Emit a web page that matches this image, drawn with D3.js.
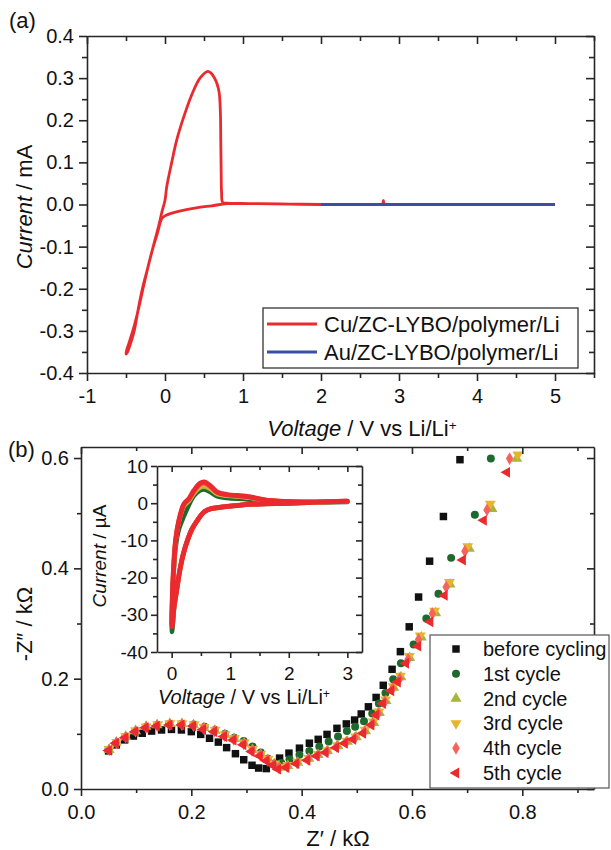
<!DOCTYPE html>
<html>
<head>
<meta charset="utf-8">
<script src="https://cdn.jsdelivr.net/npm/d3@7"></script>
<style>
  body { margin: 0; background: #fff; }
  text { font-family: Arial, "Liberation Sans", sans-serif; fill: #111; }
  .axis path, .axis line { stroke-width: 1.6; }
</style>
</head>
<body>
<div id="chart"></div>
<script>
// ---------- panel (a) data: CV of Cu and Au cells ----------
var cuV = [2.82, 2.81, 2.80, 2.79, 2.78, 2.6, 2.4, 2.0, 1.6, 1.2, 0.8, 0.6, 0.4, 0.2, 0.1, 0.0, -0.04,
  -0.10, -0.15, -0.22, -0.29, -0.345, -0.395, -0.45, -0.485, -0.50,
  -0.49, -0.45, -0.39, -0.33, -0.27, -0.21, -0.14, -0.08, -0.04, 0.0, 0.022, 0.086,
  0.15, 0.235, 0.342, 0.449, 0.551, 0.60, 0.64, 0.67, 0.695, 0.71, 0.715, 0.72,
  0.725, 0.74, 0.8, 1.2, 1.6, 2.0];
var cuI = [0.000, 0.000, 0.010, 0.000, 0.000, 0.000, 0.000, 0.000, 0.001, 0.002, 0.002, -0.003, -0.008,
  -0.015, -0.020, -0.027, -0.033, -0.070, -0.100, -0.150, -0.200, -0.250, -0.300,
  -0.335, -0.352, -0.355, -0.345, -0.322, -0.285, -0.240, -0.190, -0.142, -0.092,
  -0.050, -0.018, 0.010, 0.042, 0.100, 0.153, 0.205, 0.260, 0.300, 0.316,
  0.310, 0.298, 0.285, 0.265, 0.220, 0.150, 0.080, 0.030, 0.005, 0.003, 0.002,
  0.001, 0.000];
var auV = [2.0, 3.0, 4.0, 4.6, 5.0];
var auI = [0.000, 0.000, 0.000, 0.000, 0.000];

var aXMajor = [-1, 0, 1, 2, 3, 4, 5];
var aXMinor = [-0.5, 0.5, 1.5, 2.5, 3.5, 4.5, 5.5];
var aYMajor = [-0.4, -0.3, -0.2, -0.1, 0.0, 0.1, 0.2, 0.3, 0.4];
var aYMinor = [-0.35, -0.25, -0.15, -0.05, 0.05, 0.15, 0.25, 0.35];

// ---------- panel (b) data: Nyquist plots (kOhm) ----------
var zBefore = [0.050, 0.064, 0.079, 0.095, 0.111, 0.128, 0.146, 0.164, 0.182, 0.200, 0.217,
  0.233, 0.249, 0.264, 0.280, 0.295, 0.310, 0.322, 0.336, 0.347, 0.360, 0.377, 0.396,
  0.414, 0.430, 0.446, 0.464, 0.481, 0.496, 0.508, 0.521, 0.535, 0.548, 0.564, 0.579,
  0.595, 0.612, 0.632, 0.657, 0.687];
var imBefore = [0.069, 0.080, 0.089, 0.096, 0.101, 0.105, 0.107, 0.108, 0.107, 0.104,
  0.099, 0.092, 0.085, 0.075, 0.064, 0.053, 0.043, 0.038, 0.037, 0.046, 0.056, 0.065,
  0.074, 0.083, 0.090, 0.099, 0.110, 0.118, 0.125, 0.136, 0.149, 0.166, 0.188, 0.217,
  0.249, 0.294, 0.348, 0.413, 0.494, 0.597];

var z1 = [0.050, 0.064, 0.080, 0.098, 0.117, 0.138, 0.160, 0.182, 0.204, 0.224, 0.243,
  0.261, 0.278, 0.295, 0.311, 0.326, 0.339, 0.351, 0.363, 0.378, 0.396, 0.414, 0.432,
  0.449, 0.466, 0.482, 0.497, 0.513, 0.528, 0.540, 0.552, 0.566, 0.580, 0.603, 0.626,
  0.648, 0.671, 0.714, 0.743];
var im1 = [0.071, 0.084, 0.094, 0.104, 0.112, 0.116, 0.118, 0.118, 0.117, 0.113, 0.107,
  0.100, 0.093, 0.087, 0.077, 0.066, 0.055, 0.046, 0.047, 0.054, 0.062, 0.069, 0.077,
  0.086, 0.095, 0.105, 0.113, 0.123, 0.137, 0.155, 0.174, 0.199, 0.228, 0.262, 0.309,
  0.354, 0.419, 0.497, 0.599];

var z2 = [0.051, 0.064, 0.081, 0.099, 0.118, 0.138, 0.161, 0.183, 0.204, 0.223, 0.243,
  0.261, 0.278, 0.296, 0.311, 0.326, 0.339, 0.351, 0.360, 0.375, 0.393, 0.413, 0.430,
  0.447, 0.466, 0.483, 0.499, 0.516, 0.531, 0.541, 0.553, 0.567, 0.580, 0.596, 0.617,
  0.643, 0.669, 0.704, 0.745, 0.790];
var im2 = [0.071, 0.084, 0.095, 0.105, 0.113, 0.116, 0.118, 0.118, 0.116, 0.111, 0.106,
  0.098, 0.091, 0.083, 0.071, 0.062, 0.053, 0.045, 0.039, 0.042, 0.048, 0.055, 0.062,
  0.069, 0.078, 0.086, 0.094, 0.105, 0.120, 0.138, 0.160, 0.184, 0.203, 0.238, 0.275,
  0.319, 0.371, 0.436, 0.508, 0.599];

var z3 = [0.051, 0.065, 0.081, 0.099, 0.118, 0.139, 0.161, 0.183, 0.205, 0.223, 0.243,
  0.261, 0.278, 0.296, 0.311, 0.326, 0.339, 0.351, 0.360, 0.375, 0.393, 0.413, 0.430,
  0.447, 0.465, 0.482, 0.498, 0.515, 0.530, 0.540, 0.552, 0.566, 0.579, 0.595, 0.615,
  0.641, 0.668, 0.701, 0.742, 0.792];
var im3 = [0.072, 0.085, 0.096, 0.106, 0.113, 0.117, 0.119, 0.119, 0.117, 0.112, 0.107,
  0.099, 0.092, 0.084, 0.072, 0.063, 0.054, 0.046, 0.040, 0.043, 0.049, 0.056, 0.063,
  0.070, 0.079, 0.087, 0.095, 0.107, 0.122, 0.140, 0.162, 0.186, 0.205, 0.241, 0.278,
  0.323, 0.375, 0.440, 0.517, 0.606];

var z4 = [0.051, 0.064, 0.081, 0.099, 0.118, 0.138, 0.161, 0.183, 0.204, 0.222, 0.242,
  0.260, 0.277, 0.295, 0.310, 0.325, 0.338, 0.350, 0.359, 0.374, 0.392, 0.412, 0.429,
  0.446, 0.464, 0.481, 0.497, 0.514, 0.529, 0.539, 0.551, 0.565, 0.578, 0.593, 0.612,
  0.637, 0.662, 0.696, 0.736, 0.777];
var im4 = [0.071, 0.084, 0.094, 0.105, 0.112, 0.115, 0.117, 0.117, 0.115, 0.110, 0.105,
  0.097, 0.090, 0.082, 0.070, 0.061, 0.052, 0.044, 0.038, 0.041, 0.047, 0.054, 0.061,
  0.068, 0.077, 0.085, 0.093, 0.104, 0.119, 0.137, 0.158, 0.182, 0.200, 0.235, 0.271,
  0.318, 0.366, 0.431, 0.506, 0.599];

var z5 = [0.050, 0.063, 0.080, 0.098, 0.117, 0.137, 0.160, 0.182, 0.203, 0.221, 0.241,
  0.259, 0.276, 0.294, 0.309, 0.324, 0.336, 0.348, 0.357, 0.372, 0.390, 0.410, 0.427,
  0.443, 0.462, 0.478, 0.493, 0.511, 0.526, 0.535, 0.547, 0.562, 0.574, 0.589, 0.611,
  0.633, 0.659, 0.692, 0.730, 0.772];
var im5 = [0.070, 0.083, 0.093, 0.104, 0.111, 0.114, 0.116, 0.116, 0.114, 0.108, 0.104,
  0.095, 0.089, 0.080, 0.068, 0.060, 0.051, 0.043, 0.036, 0.039, 0.046, 0.052, 0.060,
  0.066, 0.075, 0.083, 0.090, 0.101, 0.116, 0.134, 0.155, 0.178, 0.194, 0.228, 0.259,
  0.303, 0.351, 0.415, 0.487, 0.574];

var seriesNames = ["before cycling", "1st cycle", "2nd cycle", "3rd cycle", "4th cycle", "5th cycle"];
var seriesColors = ["#111111", "#1d6a2c", "#a9b43a", "#e6b530", "#f4645c", "#ea2a2e"];

var bXMajor = [0.0, 0.2, 0.4, 0.6, 0.8];
var bXMinor = [0.1, 0.3, 0.5, 0.7, 0.9];
var bYMajor = [0.0, 0.2, 0.4, 0.6];
var bYMinor = [0.1, 0.3, 0.5];

// ---------- inset data: CV cycles (uA) ----------
var cvV = [3.0, 2.5, 2.0, 1.5, 1.12, 0.83, 0.66, 0.55, 0.44, 0.35, 0.27, 0.20, 0.14, 0.085,
  0.04, 0.015, 0.005, 0.011, 0.028, 0.068, 0.125, 0.21, 0.295, 0.38, 0.49, 0.56, 0.66,
  0.78, 0.95, 1.29, 1.68, 2.25, 2.99];
var cv1 = [0.3, 0.2, 0.0, -0.2, -0.6, -1.1, -1.5, -2.4, -4.6, -6.9, -10, -13.6, -18, -23.6,
  -28.5, -33.5, -34.6, -28, -21, -12, -7.0, -3.5, -0.5, 2.0, 3.5, 3.7, 3.0, 1.8, 1.4, 1.0,
  0.4, 0.2, 0.3];
var cv2 = [0.5, 0.3, 0.0, -0.2, -0.6, -1.1, -1.5, -2.4, -4.6, -6.9, -10, -13.6, -18, -23.4,
  -27.9, -31.8, -32.8, -25.8, -19, -10, -4.8, -0.8, 0.6, 2.6, 4.2, 4.4, 3.8, 2.4, 2.0, 1.5,
  0.6, 0.3, 0.5];
var cv3 = [0.5, 0.3, 0.0, -0.2, -0.6, -1.1, -1.5, -2.4, -4.6, -6.9, -10, -13.6, -18, -23.4,
  -27.9, -31.5, -32.4, -25.5, -19, -10, -4.7, -0.6, 0.8, 2.8, 4.6, 4.9, 4.1, 2.6, 2.1, 1.6,
  0.7, 0.3, 0.5];
var cv4 = [0.5, 0.3, 0.0, -0.2, -0.6, -1.1, -1.5, -2.4, -4.6, -6.9, -10, -13.6, -18, -23.4,
  -27.9, -32.0, -33.0, -26, -19, -10, -4.7, -0.4, 1.0, 3.1, 5.0, 5.3, 4.4, 2.8, 2.2, 1.7,
  0.7, 0.3, 0.5];
var cv5 = [0.5, 0.3, 0.0, -0.2, -0.6, -1.1, -1.5, -2.4, -4.6, -6.9, -10, -13.6, -18, -23.4,
  -27.9, -32.3, -33.2, -26, -19, -10, -4.6, -0.2, 1.2, 3.4, 5.4, 5.7, 4.7, 2.95, 2.3, 1.8,
  0.7, 0.3, 0.5];

var iXMajor = [0, 1, 2, 3];
var iXMinor = [0.5, 1.5, 2.5];
var iYMajor = [-40, -30, -20, -10, 0, 10];
var iYMinor = [-35, -25, -15, -5, 5];

// ---------- svg ----------
var svgWidth = 611;
var svgHeight = 850;

var svg = d3.select("#chart")
  .append("svg")
  .attr("width", svgWidth)
  .attr("height", svgHeight);

svg.append("rect").attr("width", svgWidth).attr("height", svgHeight).attr("fill", "#fff");

// draw a boxed frame: outward ticks bottom/left, inward mirror ticks top/right
function drawFrame(x, y, o) {
  var x0 = x.range()[0], x1 = x.range()[1];
  var y0 = y.range()[0], y1 = y.range()[1];
  var g = svg.append("g").attr("class", "axis").attr("color", "#262626");

  var bottom = g.append("g").attr("transform", `translate(0,${y0})`)
    .call(d3.axisBottom(x).tickValues(o.xMajor).tickSize(o.tick).tickSizeOuter(0)
      .tickPadding(o.xPad).tickFormat(o.xFmt));
  g.append("g").attr("transform", `translate(0,${y0})`)
    .call(d3.axisBottom(x).tickValues(o.xMinor).tickSize(o.minor).tickFormat(""))
    .select(".domain").remove();

  var left = g.append("g").attr("transform", `translate(${x0},0)`)
    .call(d3.axisLeft(y).tickValues(o.yMajor).tickSize(o.tick).tickSizeOuter(0)
      .tickPadding(o.yPad).tickFormat(o.yFmt));
  g.append("g").attr("transform", `translate(${x0},0)`)
    .call(d3.axisLeft(y).tickValues(o.yMinor).tickSize(o.minor).tickFormat(""))
    .select(".domain").remove();

  // mirror axes
  g.append("g").attr("transform", `translate(0,${y1})`)
    .call(d3.axisTop(x).tickValues(o.xMajor).tickSize(-o.tick).tickSizeOuter(0).tickFormat(""));
  g.append("g").attr("transform", `translate(0,${y1})`)
    .call(d3.axisTop(x).tickValues(o.xMinor).tickSize(-o.minor).tickFormat(""))
    .select(".domain").remove();
  g.append("g").attr("transform", `translate(${x1},0)`)
    .call(d3.axisRight(y).tickValues(o.yMajor).tickSize(-o.tick).tickSizeOuter(0).tickFormat(""));
  g.append("g").attr("transform", `translate(${x1},0)`)
    .call(d3.axisRight(y).tickValues(o.yMinor).tickSize(-o.minor).tickFormat(""))
    .select(".domain").remove();

  [bottom, left].forEach(a => a.attr("font-size", o.fs)
    .attr("font-family", "Arial, 'Liberation Sans', sans-serif")
    .selectAll("text").attr("fill", "#111"));
}

function fmt1(d) { return d.toFixed(1); }
function fmt0(d) { return String(d); }

// ===================== panel (a) =====================
var xA = d3.scaleLinear().domain([-1, 5.5]).range([87, 594]);
var yA = d3.scaleLinear().domain([-0.4, 0.4]).range([373, 36]);

var lineA = d3.line()
  .x(d => xA(d[0]))
  .y(d => yA(d[1]))
  .curve(d3.curveCatmullRom.alpha(0.5));

svg.append("path")
  .datum(cuV.map((v, i) => [v, cuI[i]]))
  .attr("d", lineA)
  .attr("fill", "none")
  .attr("stroke", "#ea2a2e")
  .attr("stroke-width", 2.8)
  .attr("stroke-linejoin", "round");

svg.append("path")
  .datum(auV.map((v, i) => [v, auI[i]]))
  .attr("d", lineA)
  .attr("fill", "none")
  .attr("stroke", "#3b4ea6")
  .attr("stroke-width", 2.8);

drawFrame(xA, yA, {
  xMajor: aXMajor, xMinor: aXMinor, yMajor: aYMajor, yMinor: aYMinor,
  tick: 8, minor: 5, xPad: 8, yPad: 5, fs: 20, xFmt: fmt0, yFmt: fmt1
});

// legend (a)
var legA = svg.append("g");
legA.append("rect").attr("x", 263).attr("y", 308).attr("width", 315).attr("height", 60)
  .attr("fill", "#fff").attr("stroke", "#333").attr("stroke-width", 1.3);
[["Cu/ZC-LYBO/polymer/Li", "#ea2a2e"], ["Au/ZC-LYBO/polymer/Li", "#3b4ea6"]].forEach((d, i) => {
  var cy = 324 + i * 28;
  legA.append("line").attr("x1", 267).attr("x2", 317).attr("y1", cy).attr("y2", cy)
    .attr("stroke", d[1]).attr("stroke-width", 2.8);
  legA.append("text").attr("x", 324).attr("y", cy + 8).attr("font-size", 22).text(d[0]);
});

// titles (a)
svg.append("text").attr("x", 9).attr("y", 28).attr("font-size", 22).text("(a)");

var yTitleA = svg.append("text")
  .attr("transform", "translate(32,207) rotate(-90)")
  .attr("text-anchor", "middle").attr("font-size", 22);
yTitleA.append("tspan").attr("font-style", "italic").text("Current");
yTitleA.append("tspan").text(" / mA");

function voltageTitle(x, y, fs) {
  var t = svg.append("text").attr("x", x).attr("y", y)
    .attr("text-anchor", "middle").attr("font-size", fs);
  t.append("tspan").attr("font-style", "italic").text("Voltage");
  t.append("tspan").text(" / V vs Li/Li");
  t.append("tspan").attr("dy", "-0.45em").attr("font-size", fs * 0.62).text("+");
}
voltageTitle(362, 436, 22);

// ===================== panel (b) =====================
var xB = d3.scaleLinear().domain([0, 0.93]).range([81, 594]);
var yB = d3.scaleLinear().domain([0, 0.62]).range([789, 447]);

var symbols = [
  { type: d3.symbolSquare, size: 56, rot: 0 },
  { type: d3.symbolCircle, size: 50, rot: 0 },
  { type: d3.symbolTriangle, size: 52, rot: 0 },
  { type: d3.symbolTriangle, size: 52, rot: 180 },
  { type: d3.symbolDiamond, size: 48, rot: 0 },
  { type: d3.symbolTriangle, size: 52, rot: -90 }
];

var nyquist = [
  [zBefore, imBefore], [z1, im1], [z2, im2], [z3, im3], [z4, im4], [z5, im5]
];

nyquist.forEach((s, k) => {
  var pts = s[0].map((z, i) => [z, s[1][i]]);
  svg.append("g").selectAll("path")
    .data(pts)
    .enter()
    .append("path")
    .attr("d", d3.symbol().type(symbols[k].type).size(symbols[k].size))
    .attr("transform", d => `translate(${xB(d[0])},${yB(d[1])}) rotate(${symbols[k].rot})`)
    .attr("fill", seriesColors[k]);
});

drawFrame(xB, yB, {
  xMajor: bXMajor, xMinor: bXMinor, yMajor: bYMajor, yMinor: bYMinor,
  tick: 7, minor: 4, xPad: 9, yPad: 5, fs: 20, xFmt: fmt1, yFmt: fmt1
});

// legend (b)
var legB = svg.append("g");
legB.append("rect").attr("x", 430).attr("y", 635).attr("width", 179).attr("height", 153)
  .attr("fill", "#fff").attr("stroke", "#555").attr("stroke-width", 1.2);
seriesNames.forEach((name, k) => {
  var cy = 649 + k * 24.8;
  legB.append("path")
    .attr("d", d3.symbol().type(symbols[k].type).size(symbols[k].size))
    .attr("transform", `translate(456,${cy}) rotate(${symbols[k].rot})`)
    .attr("fill", seriesColors[k]);
  legB.append("text").attr("x", 483).attr("y", cy + 7).attr("font-size", 20).text(name);
});

svg.append("text").attr("x", 8).attr("y", 457).attr("font-size", 22).text("(b)");

svg.append("text")
  .attr("transform", "translate(32,624) rotate(-90)")
  .attr("text-anchor", "middle").attr("font-size", 22)
  .text("-Z\u2033 / k\u03A9");

svg.append("text").attr("x", 338).attr("y", 846)
  .attr("text-anchor", "middle").attr("font-size", 22)
  .text("Z\u2032 / k\u03A9");

// ===================== inset =====================
var xI = d3.scaleLinear().domain([-0.25, 3.25]).range([157, 362]);
var yI = d3.scaleLinear().domain([-40, 10]).range([652, 466]);

var lineI = d3.line()
  .x(d => xI(d[0]))
  .y(d => yI(d[1]))
  .curve(d3.curveCatmullRom.alpha(0.5));

var cvCycles = [cv1, cv2, cv3, cv4, cv5];
var cvColors = seriesColors.slice(1);
cvCycles.forEach((c, k) => {
  svg.append("path")
    .datum(cvV.map((v, i) => [v, c[i]]))
    .attr("d", lineI)
    .attr("fill", "none")
    .attr("stroke", cvColors[k])
    .attr("stroke-width", k === 4 ? 5 : 4.5)
    .attr("stroke-linejoin", "round")
    .attr("stroke-linecap", "round");
});

drawFrame(xI, yI, {
  xMajor: iXMajor, xMinor: iXMinor, yMajor: iYMajor, yMinor: iYMinor,
  tick: 6, minor: 4, xPad: 9, yPad: 3, fs: 19, xFmt: fmt0, yFmt: fmt0
});

var yTitleI = svg.append("text")
  .attr("transform", "translate(106,556) rotate(-90)")
  .attr("text-anchor", "middle").attr("font-size", 19);
yTitleI.append("tspan").attr("font-style", "italic").text("Current");
yTitleI.append("tspan").text(" / \u00B5A");

voltageTitle(244, 704, 20);
</script>
</body>
</html>
